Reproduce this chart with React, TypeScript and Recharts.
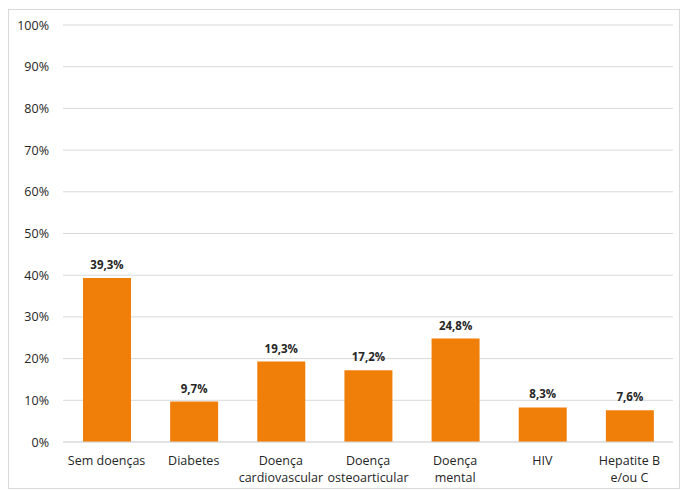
import React from "react";
import { BarChart, Bar, XAxis, YAxis, CartesianGrid, LabelList } from "recharts";

const categories = ["Sem doenças", "Diabetes", "Doença cardiovascular", "Doença osteoarticular", "Doença mental", "HIV", "Hepatite B e/ou C"];
const categoryLines = [["Sem doenças"], ["Diabetes"], ["Doença", "cardiovascular"], ["Doença", "osteoarticular"], ["Doença", "mental"], ["HIV"], ["Hepatite B", "e/ou C"]];
const values = [39.3, 9.7, 19.3, 17.2, 24.8, 8.3, 7.6];
const yTicks = [0, 10, 20, 30, 40, 50, 60, 70, 80, 90, 100];

const data = categories.map((c, i) => ({ name: c, idx: i, value: values[i] }));

const FONT = "'Open Sans', 'Noto Sans', sans-serif";

const XTick = (props: any) => {
  const { x, y, payload } = props;
  const lines = categoryLines[payload.index] || [payload.value];
  return (
    <g transform={`translate(${x},442)`}>
      {lines.map((l: string, i: number) => (
        <text key={i} x={0} y={23 + i * 17} textAnchor="middle" fill="#262626" fontSize={12.5} fontFamily={FONT}>
          {l}
        </text>
      ))}
    </g>
  );
};

const YTick = (props: any) => {
  const { x, y, payload } = props;
  return (
    <text x={49} y={y + 4.5} textAnchor="end" fill="#262626" fontSize={12.5} fontFamily={FONT}>
      {payload.value}%
    </text>
  );
};

export default function App() {
  return (
    <div style={{ position: "absolute", left: 0, top: 0, width: 681, height: 491, background: "#fff" }}>
      <div style={{ position: "absolute", left: 8, top: 9, width: 672, height: 480, border: "1px solid #d9d9d9", boxSizing: "border-box" }} />
      <BarChart width={681} height={491} data={data} margin={{ top: 25, right: 8, bottom: 0, left: 0 }} style={{ position: "absolute", left: 0, top: 0 }}>
        <CartesianGrid vertical={false} stroke="#d9d9d9" strokeWidth={1} />
        <XAxis dataKey="name" tick={<XTick />} tickLine={false} tickSize={0} tickMargin={0} axisLine={{ stroke: "#d9d9d9" }} interval={0} height={49} />
        <YAxis domain={[0, 100]} ticks={yTicks} width={63} tickLine={false} axisLine={false} tick={<YTick />} tickMargin={14} tickSize={0} />
        <Bar dataKey="value" fill="#F07F09" barSize={48} isAnimationActive={false}>
          <LabelList
            dataKey="value"
            position="top"
            offset={9}
            formatter={(v: any) => `${String(v).replace(".", ",")}%`}
            style={{ fontSize: 11.5, fontWeight: 700, fill: "#262626", fontFamily: FONT }}
          />
        </Bar>
      </BarChart>
    </div>
  );
}
